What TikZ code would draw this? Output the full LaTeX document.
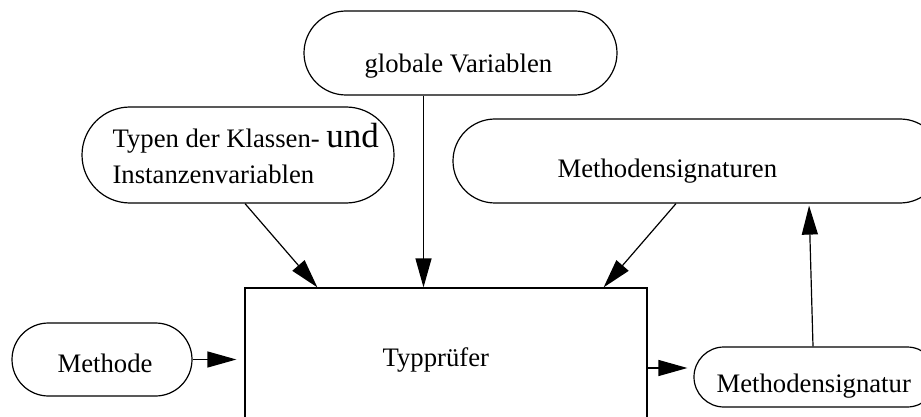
\documentclass[tikz,border=0pt]{standalone}
\usepackage{fontspec}
\setmainfont{Liberation Serif}
\usetikzlibrary{arrows.meta, shapes.misc}

\begin{document}
\begin{tikzpicture}[x=1pt, y=-1pt, line width=1.2pt, font=\fontsize{26.7}{32}\selectfont, pill/.style={draw, rounded rectangle, inner sep=0pt}, txt/.style={anchor=base west, inner sep=0pt}, flow/.style={-{Triangle[length=29pt, width=16pt]}}]
\useasboundingbox (0,0) rectangle (921,417);
\clip (0,0) rectangle (921,417);
\node[pill, minimum width=313pt, minimum height=84pt] (glob) at (460.5,53){};
\node[pill, minimum width=312pt, minimum height=96pt] (typen) at (238,155){};
\node[pill, minimum width=489pt, minimum height=84pt] (sigs) at (697.5,161){};
\node[pill, minimum width=180pt, minimum height=73pt] (meth) at (102,359.5){};
\node[draw, rectangle, minimum width=402pt, minimum height=160pt] (pruefer) at (446,368){};
\node[pill, minimum width=243pt, minimum height=60pt] (msig) at (815.5,377){};
\node[txt] at (364,73){globale Variablen};
\node[txt] at (112,147){Typen der Klassen- {\fontsize{35}{35}\selectfont und}};
\node[txt] at (112,183){Instanzenvariablen};
\node[txt] at (557,178){Methodensignaturen};
\node[txt] at (57,372){Methode};
\node[txt] at (382,366){Typprüfer};
\node[txt] at (716,392){Methodensignatur};
\draw[flow] ([xshift=7pt]typen.south) -- ([xshift=73pt]pruefer.north west);
\draw[flow] ([xshift=-37pt]glob.south) -- ([xshift=-37pt]glob.south |- pruefer.north);
\draw[flow] ([xshift=-21.5pt]sigs.south) -- ([xshift=-44pt]pruefer.north east);
\draw[flow, shorten >=8pt] (meth.east) -- (meth.east -| pruefer.west);
\draw[flow, shorten >=6pt] (pruefer.east) -- (pruefer.east -| msig.west);
\draw[flow, shorten >=2pt] ([xshift=-2.5pt]msig.north) -- ([xshift=111.5pt]sigs.south);
\end{tikzpicture}
\end{document}
